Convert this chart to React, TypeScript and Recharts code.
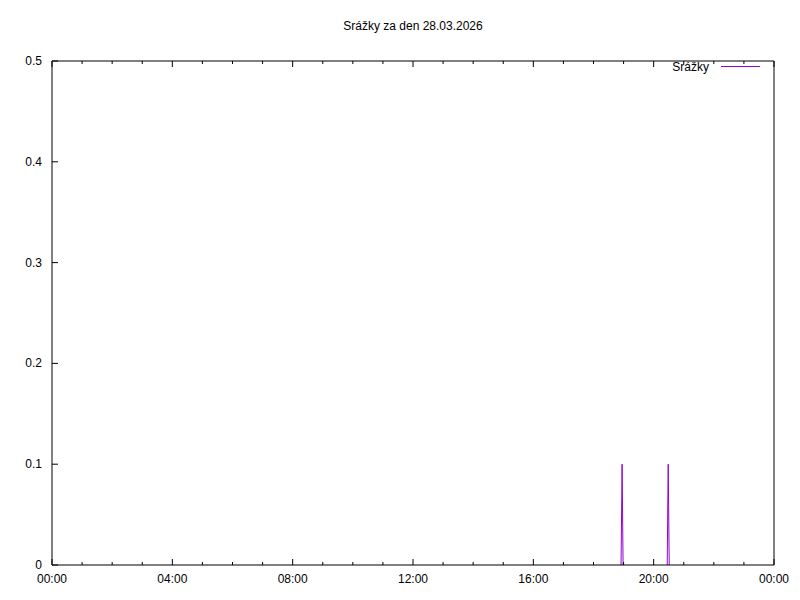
import React from 'react';
import { LineChart, Line, XAxis, YAxis } from 'recharts';

// minutes since midnight, precipitation in mm (null breaks the line)
const minutes = [1135, 1137, 1139, 1180, 1227, 1229, 1231];
const rain = [0, 0.1, 0, null, 0, 0.1, 0];

const hourTicks = [0, 1, 2, 3, 4, 5, 6, 7, 8, 9, 10, 11, 12, 13, 14, 15, 16, 17, 18, 19, 20, 21, 22, 23, 24].map((h) => h * 60);
const yTicks = [0, 0.1, 0.2, 0.3, 0.4, 0.5];

const title = 'Srážky za den 28.03.2026';
const seriesName = 'Srážky';
const color = '#9400d3';
const font = '"Liberation Sans", Arial, sans-serif';

const data = minutes.map((t, i) => ({ t, v: rain[i] }));

const fmtTime = (m: number) => {
  const h = Math.floor(m / 60) % 24;
  return `${h < 10 ? '0' : ''}${h}:00`;
};

const isMajor = (m: number) => (m / 60) % 4 === 0;

const BottomTick = ({ x, y, payload }: any) => {
  const major = isMajor(payload.value);
  return (
    <g>
      <line x1={x} y1={y} x2={x} y2={y - (major ? 6 : 3)} stroke="#000" />
      {major && (
        <text x={x} y={y + 14} textAnchor="middle" dominantBaseline="central" fontSize={12} fill="#000" fontFamily={font}>
          {fmtTime(payload.value)}
        </text>
      )}
    </g>
  );
};

const TopTick = ({ x, y, payload }: any) => {
  const major = isMajor(payload.value);
  return <line x1={x} y1={y} x2={x} y2={y + (major ? 6 : 3)} stroke="#000" />;
};

const LeftTick = ({ x, y, payload }: any) => (
  <g>
    <line x1={x} y1={y} x2={x + 6} y2={y} stroke="#000" />
    <text x={x - 10} y={y} textAnchor="end" dominantBaseline="central" fontSize={12} fill="#000" fontFamily={font}>
      {payload.value === 0 ? '0' : payload.value.toFixed(1)}
    </text>
  </g>
);

const RightTick = ({ x, y }: any) => <line x1={x} y1={y} x2={x - 6} y2={y} stroke="#000" />;

const App: React.FC = () => {
  return (
    <div style={{ position: 'absolute', left: 0, top: 0, width: 800, height: 600, background: '#fff', fontFamily: font }}>
      <div style={{ position: 'absolute', left: 52, width: 722, top: 19, lineHeight: '14px', fontSize: 12, textAlign: 'center', color: '#000' }}>
        {title}
      </div>
      <LineChart width={800} height={600} data={data} margin={{ top: 60, right: 25, bottom: 0, left: 0 }}>
        <XAxis
          xAxisId="bottom"
          dataKey="t"
          type="number"
          domain={[0, 1440]}
          ticks={hourTicks}
          interval={0}
          height={35}
          tickSize={0}
          tickMargin={0}
          tickLine={false}
          axisLine={{ stroke: '#000' }}
          tick={<BottomTick />}
        />
        <XAxis
          xAxisId="top"
          orientation="top"
          dataKey="t"
          type="number"
          domain={[0, 1440]}
          ticks={hourTicks}
          interval={0}
          height={1}
          tickSize={0}
          tickMargin={0}
          tickLine={false}
          axisLine={{ stroke: '#000' }}
          tick={<TopTick />}
        />
        <YAxis
          yAxisId="left"
          type="number"
          domain={[0, 0.5]}
          ticks={yTicks}
          interval={0}
          width={52}
          tickSize={0}
          tickMargin={0}
          tickLine={false}
          axisLine={{ stroke: '#000' }}
          tick={<LeftTick />}
        />
        <YAxis
          yAxisId="right"
          orientation="right"
          type="number"
          domain={[0, 0.5]}
          ticks={yTicks}
          interval={0}
          width={1}
          tickSize={0}
          tickMargin={0}
          tickLine={false}
          axisLine={{ stroke: '#000' }}
          tick={<RightTick />}
        />
        <Line
          xAxisId="bottom"
          yAxisId="left"
          dataKey="v"
          name={seriesName}
          stroke={color}
          strokeWidth={1}
          dot={false}
          connectNulls={false}
          isAnimationActive={false}
        />
      </LineChart>
      <div style={{ position: 'absolute', right: 91, top: 60, lineHeight: '14px', fontSize: 12, color: '#000' }}>
        {seriesName}
      </div>
      <svg style={{ position: 'absolute', left: 0, top: 0 }} width={800} height={100} pointerEvents="none">
        <line x1={721} y1={66.5} x2={760} y2={66.5} stroke={color} strokeWidth={1} />
      </svg>
    </div>
  );
};

export default App;
